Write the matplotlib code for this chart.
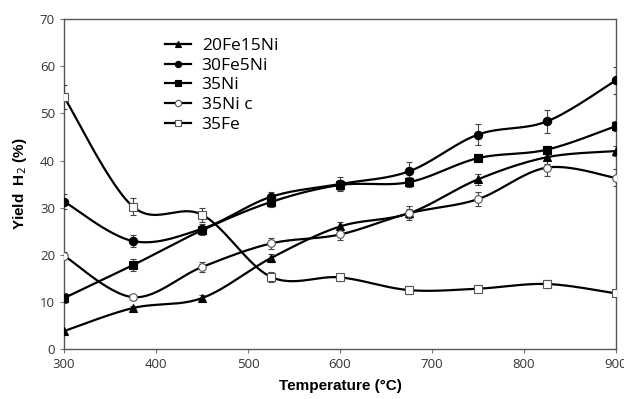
import numpy as np
import matplotlib; matplotlib.use('Agg'); import matplotlib.pyplot as plt

temps = [300, 375, 450, 525, 600, 675, 750, 825, 900]

y_20fe15ni = [3.8, 8.7, 10.8, 19.3, 26.0, 28.8, 36.0, 40.7, 42.0]
y_30fe5ni = [31.3, 22.9, 25.5, 32.3, 35.0, 37.7, 45.5, 48.3, 57.0]
y_35ni = [10.8, 17.8, 25.2, 31.2, 34.8, 35.4, 40.5, 42.3, 47.3]
y_35nic = [19.8, 11.0, 17.4, 22.4, 24.3, 28.8, 31.8, 38.5, 36.3]
y_35fe = [53.5, 30.2, 28.5, 15.3, 15.2, 12.5, 12.8, 13.8, 11.8]

e_20fe15ni = [0.5, 0.5, 0.7, 0.8, 1.0, 1.5, 1.2, 1.5, 1.0]
e_30fe5ni = [1.5, 1.2, 1.0, 1.0, 1.5, 2.0, 2.3, 2.5, 2.8]
e_35ni = [1.0, 1.2, 1.0, 1.0, 1.0, 1.0, 0.8, 0.8, 1.0]
e_35nic = [0.8, 0.5, 1.0, 1.2, 1.2, 1.0, 1.5, 1.8, 1.8]
e_35fe = [2.5, 1.8, 1.5, 1.0, 0.8, 0.8, 0.8, 0.8, 0.6]

labels = ['20Fe15Ni', '30Fe5Ni', '35Ni', '35Ni c', '35Fe']


def smooth(x, y, n=30):
    # Excel-like smoothed line: cubic Bezier with Catmull-Rom control points
    x = np.asarray(x, float); y = np.asarray(y, float)
    px = np.concatenate([[x[0]], x, [x[-1]]])
    py = np.concatenate([[y[0]], y, [y[-1]]])
    xs, ys = [], []
    t = np.linspace(0, 1, n)
    for i in range(1, len(px) - 2):
        p0 = np.array([px[i], py[i]]); p3 = np.array([px[i + 1], py[i + 1]])
        p1 = p0 + (np.array([px[i + 1], py[i + 1]]) - np.array([px[i - 1], py[i - 1]])) / 6
        p2 = p3 - (np.array([px[i + 2], py[i + 2]]) - np.array([px[i], py[i]])) / 6
        b = ((1 - t) ** 3)[:, None] * p0 + (3 * (1 - t) ** 2 * t)[:, None] * p1 \
            + (3 * (1 - t) * t ** 2)[:, None] * p2 + (t ** 3)[:, None] * p3
        xs.append(b[:, 0]); ys.append(b[:, 1])
    return np.concatenate(xs), np.concatenate(ys)


plt.rcParams['font.family'] = ['Open Sans', 'DejaVu Sans']
fig = plt.figure(figsize=(6.24, 3.99), dpi=100)
ax = fig.add_axes([0.1026, 0.1253, 0.8844, 0.8267])

series = [
    (y_20fe15ni, e_20fe15ni, '^', 'k'),
    (y_30fe5ni, e_30fe5ni, 'o', 'k'),
    (y_35ni, e_35ni, 's', 'k'),
    (y_35nic, e_35nic, 'o', 'white'),
    (y_35fe, e_35fe, 's', 'white'),
]
for (ys, es, mk, fc), lbl in zip(series, labels):
    sx, sy = smooth(temps, ys)
    ax.plot(sx, sy, color='k', lw=1.6, zorder=2)
    ax.errorbar(temps, ys, yerr=es, fmt='none', ecolor='#444444', elinewidth=0.8,
                capsize=2, capthick=0.8, zorder=3)
    ax.plot(temps, ys, ls='none', marker=mk, ms=6 if mk != 'o' or fc == 'k' else 5.5,
            mfc=fc, mec='k' if fc == 'k' else '#555555', mew=0.8, zorder=4)
    ax.plot([], [], color='k', lw=1.6, marker=mk, ms=4.5, mfc=fc,
            mec='k' if fc == 'k' else '#555555', mew=0.8, label=lbl)

ax.set_xlim(300, 900)
ax.set_ylim(0, 70)
ax.set_xticks(range(300, 901, 100))
ax.set_yticks(range(0, 71, 10))
ax.tick_params(direction='out', length=3, width=0.8, colors='#777777',
               labelcolor='#333333', labelsize=9.5)
for s in ax.spines.values():
    s.set_color('#555555'); s.set_linewidth(1.0)

ax.set_xlabel('Temperature (°C)', fontsize=11, fontweight='bold',
              family=['Liberation Sans', 'DejaVu Sans'], labelpad=6)
ax.set_ylabel('Yield  H$_2$ (%)', fontsize=11, fontweight='bold',
              family=['Liberation Sans', 'DejaVu Sans'], labelpad=8)

ax.legend(loc='upper left', bbox_to_anchor=(0.155, 0.99), frameon=False,
          fontsize=12.5, handlelength=1.5, labelspacing=0.2, handletextpad=0.6)

fig.savefig('out.png', dpi=100)
